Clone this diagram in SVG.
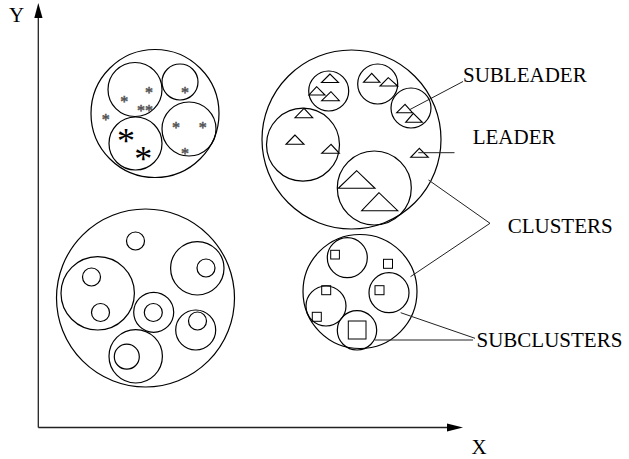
<svg xmlns="http://www.w3.org/2000/svg" width="629" height="459" viewBox="0 0 629 459">
<style>
.c{fill:none;stroke:#000;stroke-width:1.2}
.t{fill:none;stroke:#000;stroke-width:1.1}
.sq{fill:none;stroke:#000;stroke-width:1}
.ln{fill:none;stroke:#222;stroke-width:1}
.ax{fill:none;stroke:#222;stroke-width:1.3}
.lbl{font-family:"Liberation Serif","Times New Roman",serif;font-size:21px;fill:#000}
.as{font-family:"Liberation Serif","Times New Roman",serif;font-size:16px;fill:#555;stroke:#555;stroke-width:0.5;text-anchor:middle}
.ab{font-family:"Liberation Serif","Times New Roman",serif;font-size:36px;fill:#000;text-anchor:middle}
</style>
<rect width="629" height="459" fill="#fff"/>
<g id="axes">
<line class="ax" x1="38.3" y1="427.5" x2="38.3" y2="17"/>
<polygon points="38.3,3 34.3,18 42.5,18" fill="#000"/>
<line class="ax" x1="38.3" y1="427.5" x2="448" y2="427.5"/>
<polygon points="463,427.5 447,423.5 447,431.5" fill="#000"/>
<text class="lbl" x="9" y="22" font-size="18">Y</text>
<text class="lbl" x="471.5" y="454.3">X</text>
</g>
<g id="cluster-asterisk">
<circle class="c" cx="155" cy="113.5" r="64"/>
<circle class="c" cx="135" cy="89.5" r="27"/>
<circle class="c" cx="180" cy="82" r="18"/>
<circle class="c" cx="135.5" cy="143.5" r="26.5"/>
<circle class="c" cx="189" cy="129" r="27"/>
<text class="as" x="149" y="97.5">*</text>
<text class="as" x="124.3" y="106.5">*</text>
<text class="as" x="144.9" y="115.8">**</text>
<text class="as" x="105.7" y="124.5">*</text>
<text class="as" x="185" y="97.5">*</text>
<text class="as" x="176" y="132.5">*</text>
<text class="as" x="202.7" y="132.5">*</text>
<text class="as" x="185" y="159.2">*</text>
<text class="ab" x="126" y="152.6">*</text>
<text class="ab" x="143.3" y="171.2">*</text>
</g>
<g id="cluster-triangle">
<circle class="c" cx="351.5" cy="139.5" r="89.5"/>
<circle class="c" cx="328.7" cy="91" r="20"/>
<circle class="c" cx="377.7" cy="84" r="20"/>
<circle class="c" cx="411" cy="108" r="20"/>
<circle class="c" cx="303" cy="144.7" r="36.5"/>
<circle class="c" cx="374.3" cy="188" r="37"/>
<polygon class="t" points="330,74 321.5,82.5 338.5,82.5"/>
<polygon class="t" points="316.7,86.7 309,95 325,95"/>
<polygon class="t" points="331,91.7 321.7,100.7 339.3,100.7"/>
<polygon class="t" points="371.7,73.3 363.5,82.3 380,82.3"/>
<polygon class="t" points="388.3,77.7 380,86 397.7,86"/>
<polygon class="t" points="405,104.3 396.7,112.7 412.5,112.7"/>
<polygon class="t" points="413.3,113.3 405.7,122.3 422.3,122.3"/>
<polygon class="t" points="304,108.3 295,117.7 312.7,117.7"/>
<polygon class="t" points="295,135 286,144.3 304,144.3"/>
<polygon class="t" points="331,144.3 321.7,153.3 339.3,153.3"/>
<polygon class="t" points="419.3,148.3 410.7,157.3 428.3,157.3"/>
<polygon class="t" points="356.7,170.7 338.3,188.3 375,188.3"/>
<polygon class="t" points="379,192.7 361.7,210.7 397.7,210.7"/>
</g>
<g id="cluster-circle">
<circle class="c" cx="145.5" cy="298" r="89"/>
<circle class="c" cx="135.5" cy="241" r="9"/>
<circle class="c" cx="197.3" cy="268.3" r="26.7"/>
<circle class="c" cx="206" cy="268" r="9"/>
<circle class="c" cx="97.7" cy="293.3" r="36.7"/>
<circle class="c" cx="91.5" cy="277" r="9"/>
<circle class="c" cx="100.5" cy="312.5" r="9"/>
<circle class="c" cx="153.7" cy="312.3" r="20"/>
<circle class="c" cx="153.3" cy="312.5" r="9"/>
<circle class="c" cx="195.7" cy="330" r="20"/>
<circle class="c" cx="197.5" cy="321" r="9" stroke-width="1.8"/>
<circle class="c" cx="135.7" cy="356.3" r="26.7"/>
<circle class="c" cx="126.8" cy="356.7" r="12.5"/>
</g>
<g id="cluster-square">
<circle class="c" cx="360" cy="291.5" r="57"/>
<circle class="c" cx="347.3" cy="257.7" r="20"/>
<circle class="c" cx="389" cy="292.7" r="20"/>
<circle class="c" cx="326" cy="306" r="20"/>
<circle class="c" cx="357" cy="330.3" r="19.7"/>
<rect class="sq" x="330.7" y="250.3" width="8.7" height="8.7"/>
<rect class="sq" x="383.5" y="259.3" width="9" height="9"/>
<rect class="sq" x="375" y="285.7" width="9" height="9"/>
<rect class="sq" x="321.7" y="285.7" width="9" height="9"/>
<rect class="sq" x="312.3" y="312.3" width="9" height="9"/>
<rect class="sq" x="348.3" y="321" width="17.7" height="18"/>
</g>
<g id="connectors">
<line class="ln" x1="409" y1="110" x2="463" y2="81.5"/>
<line class="ln" x1="418.3" y1="152.7" x2="454.5" y2="152.7"/>
<polyline class="ln" points="428.5,180 490,223.3 410.5,276.7"/>
<line class="ln" x1="400.7" y1="312.7" x2="475" y2="338.3"/>
<line class="ln" x1="375" y1="340" x2="473" y2="340" stroke="#555"/>
</g>
<g id="labels">
<text class="lbl" x="463" y="81.7">SUBLEADER</text>
<text class="lbl" x="472.7" y="144.3">LEADER</text>
<text class="lbl" x="507.7" y="232.7">CLUSTERS</text>
<text class="lbl" x="476.5" y="347">SUBCLUSTERS</text>
</g>
</svg>
